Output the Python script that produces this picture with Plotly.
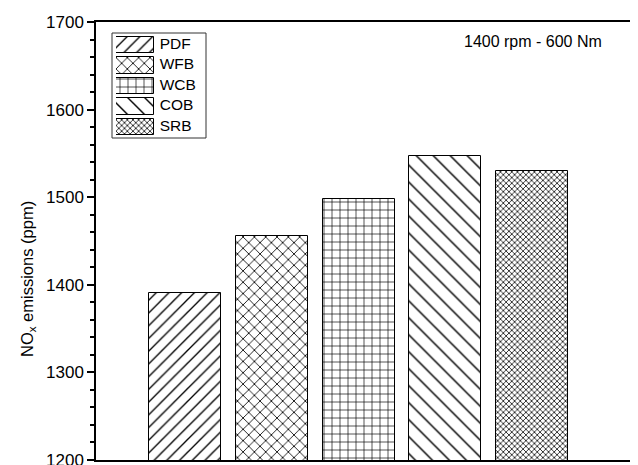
import plotly.graph_objects as go

categories = ["PDF", "WFB", "WCB", "COB", "SRB"]
nox_ppm = [1391, 1456, 1498, 1547, 1530]
y_ticks = [1200, 1300, 1400, 1500, 1600, 1700]
patterns = ["/", "x", "+", "\\", "x"]
pattern_sizes = [9, 8, 8, 12, 4]
pattern_solidity = [0.15, 0.2, 0.16, 0.12, 0.35]

FONT = "Liberation Sans, Arial, sans-serif"
# page body has an 8px margin: lay out in window pixels, offset by it
OFF = 8
W, H = 638 - OFF, 465 - OFF
L, R, T, B = 96 - OFF, 7, 22 - OFF, 5
PW, PH = W - L - R, H - T - B


def px_x(px):
    return (px - OFF - L) / PW


def px_y(py):
    return 1 - (py - OFF - T) / PH


fig = go.Figure()

for i, c in enumerate(categories):
    fig.add_trace(go.Bar(
        x=[c], y=[nox_ppm[i]], width=0.83, showlegend=False,
        marker=dict(color="white", line=dict(color="black", width=1),
                    pattern=dict(shape=patterns[i], size=pattern_sizes[i],
                                 solidity=pattern_solidity[i], fgcolor="black",
                                 bgcolor="white", fgopacity=1)),
    ))

# custom legend swatches
for i, c in enumerate(categories):
    fig.add_trace(go.Bar(
        x=[1], y=[i], orientation="h", width=0.8, showlegend=False,
        xaxis="x2", yaxis="y2",
        marker=dict(color="white", line=dict(color="black", width=1),
                    pattern=dict(shape=patterns[i], size=pattern_sizes[i],
                                 solidity=pattern_solidity[i], fgcolor="black",
                                 bgcolor="white", fgopacity=1)),
    ))
fig.add_trace(go.Scatter(
    x=[1.15] * len(categories), y=list(range(len(categories))), mode="text",
    text=categories, textposition="middle right", showlegend=False,
    textfont=dict(family=FONT, size=15.5, color="black"),
    xaxis="x2", yaxis="y2", hoverinfo="skip",
))

fig.update_layout(
    width=W, height=H,
    margin=dict(l=L, r=R, t=T, b=B, autoexpand=False),
    paper_bgcolor="white", plot_bgcolor="white",
    font=dict(family=FONT, color="black"),
    bargap=0,
    xaxis=dict(type="category", range=[-1.026, 5.141], showticklabels=False,
               ticks="", showgrid=False, zeroline=False, automargin=False,
               showline=True, linecolor="black", linewidth=1.5, mirror=True),
    yaxis=dict(range=[1200, 1700], tickvals=y_ticks, ticks="outside",
               ticklen=7, tickwidth=1.5, tickcolor="black", automargin=False,
               ticklabeloverflow="allow",
               minor=dict(dtick=20, ticks="outside", ticklen=4, tickwidth=1.5,
                          tickcolor="black"),
               showgrid=False, zeroline=False, showline=True,
               linecolor="black", linewidth=1.5, mirror=True,
               tickfont=dict(family=FONT, size=17, color="black")),
    xaxis2=dict(domain=[px_x(116), px_x(206)], range=[0, 90 / 38], anchor="y2",
                visible=False, fixedrange=True, automargin=False),
    yaxis2=dict(domain=[px_y(137), px_y(35)], range=[4.5, -0.5], anchor="x2",
                visible=False, fixedrange=True, automargin=False),
    shapes=[dict(type="rect", xref="paper", yref="paper",
                 x0=px_x(112), x1=px_x(206), y0=px_y(138), y1=px_y(33),
                 line=dict(color="#333", width=1), fillcolor="rgba(0,0,0,0)")],
    annotations=[
        dict(text="1400 rpm - 600 Nm", xref="paper", yref="paper",
             x=px_x(462), y=px_y(41), xanchor="left", yanchor="middle",
             showarrow=False, font=dict(family=FONT, size=16, color="black")),
        dict(text="NO<sub>x</sub> emissions (ppm)", xref="paper", yref="paper",
             x=px_x(28), y=px_y(279), xanchor="center", yanchor="middle",
             textangle=-90, showarrow=False,
             font=dict(family=FONT, size=16.5, color="black")),
    ],
)

fig.write_html("out.html")
